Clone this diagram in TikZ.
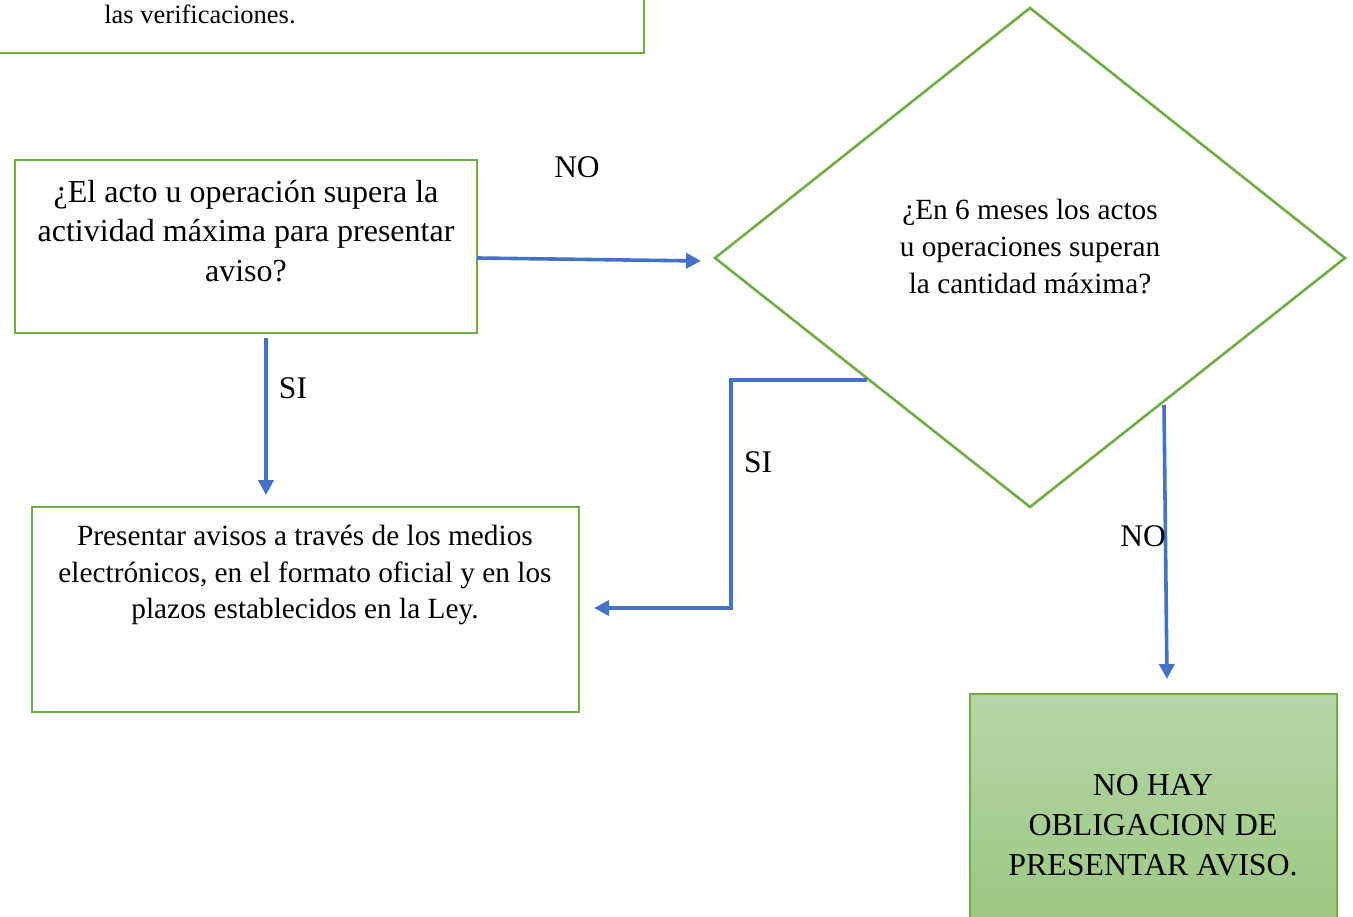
\documentclass[tikz,border=0pt]{standalone}
\usepackage{fontspec}
\setmainfont{Liberation Serif}
\usetikzlibrary{arrows.meta,shapes.geometric}
\definecolor{gline}{RGB}{112,173,71}
\definecolor{barrow}{RGB}{68,114,196}
\definecolor{gtop}{RGB}{180,214,166}
\definecolor{gbot}{RGB}{156,200,131}
\tikzset{
  box/.style={draw=gline,line width=2.6pt},
  conn/.style={draw=barrow,line width=3.6pt,-{Triangle[length=15pt,width=15pt]}},
  lbl/.style={inner sep=0pt,font=\fontsize{31.5}{36}\selectfont},
}
\begin{document}
\begin{tikzpicture}[x=1pt,y=-1pt]
\useasboundingbox (0,0) rectangle (1353,917);
\fill[white] (0,0) rectangle (1353,917);
% boxes
\draw[box] (-10,-60) rectangle (644,53);
\node[inner sep=0pt,font=\fontsize{26.5}{30}\selectfont] (top) at (200,14) {las verificaciones.};
\draw[box] (15,160) rectangle (477,333);
\node[align=center,inner sep=0pt,font=\fontsize{32}{39.5}\selectfont] (q1) at (246,231)
  {¿El acto u operación supera la\\actividad máxima para presentar\\aviso?};
\draw[box] (1030,8) -- (1345,258) -- (1030,507) -- (715,258) -- cycle;
\node[align=center,inner sep=0pt,font=\fontsize{29.3}{37}\selectfont] (q2) at (1030,247)
  {¿En 6 meses los actos\\u operaciones superan\\la cantidad máxima?};
\draw[box] (32,507) rectangle (579,712);
\node[align=center,inner sep=0pt,font=\fontsize{29.3}{36.5}\selectfont] (pa) at (305,575)
  {Presentar avisos a través de los medios\\electrónicos, en el formato oficial y en los\\plazos establecidos en la Ley.};
\shade[top color=gtop,bottom color=gbot] (970,694) rectangle (1337,930);
\draw[gline,line width=1.2pt] (970,930) -- (970,694) -- (1337,694) -- (1337,930);
\node[align=center,inner sep=0pt,font=\fontsize{31.9}{40}\selectfont] (nh) at (1153,825)
  {NO HAY\\OBLIGACION DE\\PRESENTAR AVISO.};
% connector end points
\coordinate (a1s) at (477,258);
\coordinate (a1e) at (701,261);
\coordinate (a2s) at (266,338);
\coordinate (a2e) at (266,495);
\coordinate (a3s) at (867,380);
\coordinate (a3e) at (594,608);
\coordinate (a4s) at (1164,405);
\coordinate (a4e) at (1167,679);
\draw[conn] (a1s) -- (a1e);
\draw[conn] (a2s) -- (a2e);
\draw[conn] (a3s) -- (731,380) -- (731,608) -- (a3e);
\draw[conn] (a4s) -- (a4e);
% labels
\node[lbl] (n1) at (577,167) {NO};
\node[lbl] (s1) at (293,388) {SI};
\node[lbl] (s2) at (758,462) {SI};
\node[lbl] (n2) at (1143,536) {NO};
\end{tikzpicture}
\end{document}
